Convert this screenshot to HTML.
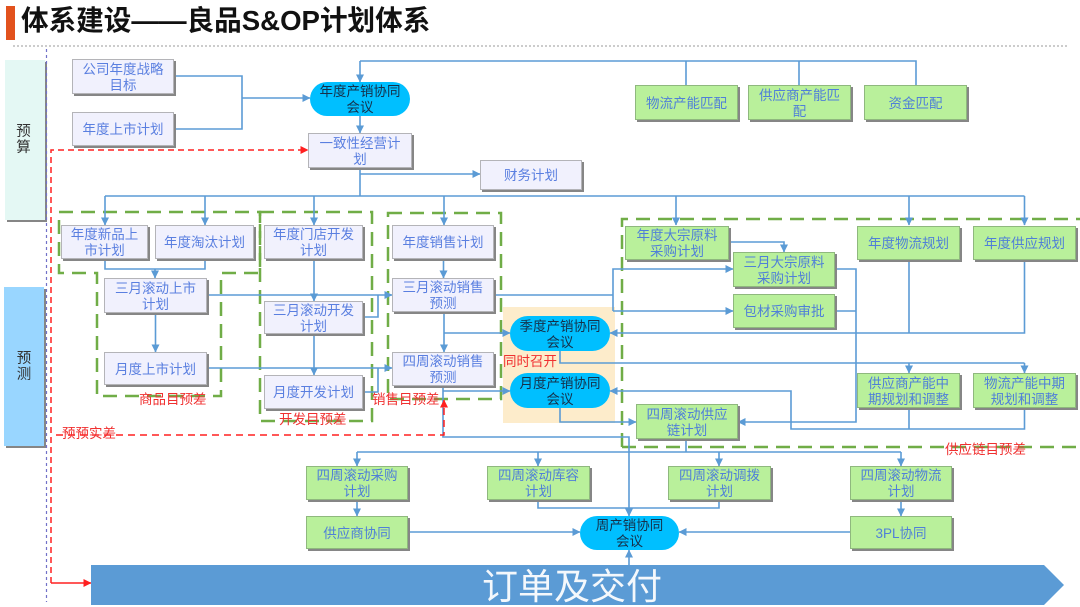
<!DOCTYPE html>
<html lang="zh"><head><meta charset="utf-8"><title>良品S&amp;OP计划体系</title>
<style>
html,body{margin:0;padding:0;background:#fff}
#p{position:relative;width:1080px;height:607px;overflow:hidden;background:#fff;font-family:"Liberation Sans","Noto Sans CJK SC",sans-serif;filter:blur(.3px)}
svg{position:absolute;left:0;top:0}
.b,.g,.o{position:absolute;box-sizing:border-box;display:flex;align-items:center;justify-content:center;text-align:center;font-size:13.5px;line-height:16px;padding-top:2px}
.b{background:#f1f1fd;border:1px solid #b4b4b8;box-shadow:2px 2px 0 #868686;color:#5a7fe0}
.g{background:#b9f09b;border:1px solid #8fb87e;box-shadow:2px 2px 0 #868686;color:#4f7fd8}
.o{background:#00bfff;border-radius:18px;color:#15304a}
.r{position:absolute;color:#f03030;font-size:13.5px;line-height:16px;white-space:nowrap}
.s{position:absolute;box-sizing:border-box;box-shadow:2px 2px 0 #868686;display:flex;align-items:center;justify-content:center;color:#333;font-size:14.5px;line-height:16px;text-align:center}
</style></head><body><div id="p">
<div style="position:absolute;left:503px;top:307px;width:112px;height:116px;background:#fdeccb"></div>
<div style="position:absolute;left:6px;top:6px;width:9px;height:34px;background:#e2521d"></div>
<div style="position:absolute;left:21px;top:4px;width:420px;font-size:27.6px;line-height:34px;font-weight:700;color:#111;white-space:nowrap">体系建设——良品S&amp;OP计划体系</div>
<div class="s" style="left:5px;top:60px;width:40px;height:160px;background:#e4f8f4;padding-right:3px">预<br>算</div>
<div class="s" style="left:4px;top:287px;width:40px;height:159px;background:#99d6ff">预<br>测</div>

<svg width="1080" height="607" viewBox="0 0 1080 607">
<defs>
<marker id="a" markerUnits="userSpaceOnUse" markerWidth="9" markerHeight="9" refX="7.5" refY="4" orient="auto"><path d="M0 0L8 4L0 8Z" fill="#5b9bd5"/></marker>
<marker id="c" markerUnits="userSpaceOnUse" markerWidth="9" markerHeight="9" refX="7.5" refY="4" orient="auto"><path d="M0 0L8 4L0 8Z" fill="#ff2020"/></marker>
</defs>
<line x1="13" y1="46" x2="1068" y2="46" stroke="#999" stroke-width="1" stroke-dasharray="2 2"/>
<line x1="46.5" y1="49" x2="46.5" y2="602" stroke="#7272c8" stroke-width="1.2" stroke-dasharray="3 3"/>
<g fill="none" stroke="#70ad47" stroke-width="2.5" stroke-dasharray="14 8">
<path d="M59 212H260V273H221V396H97V273H59Z"/>
<path d="M260 212H372V421H260Z"/>
<path d="M388 213H501V399H388Z"/>
<path d="M622 447V219H1082M622 447H1082"/>
</g>
<g fill="none" stroke="#5b9bd5" stroke-width="1.6">
<path d="M174 76H242V129H174"/>
<path d="M242 98H310" marker-end="url(#a)"/>
<path d="M360 61V82" marker-end="url(#a)"/>
<path d="M360 61H916V85M686 61V85M799 61V85"/>
<path d="M360 116V133" marker-end="url(#a)"/>
<path d="M360 168V196"/>
<path d="M360 174H480" marker-end="url(#a)"/>
<path d="M105 196H1024.5"/>
<path d="M105 196V225" marker-end="url(#a)"/>
<path d="M205 196V225" marker-end="url(#a)"/>
<path d="M314 196V225" marker-end="url(#a)"/>
<path d="M444 196V225" marker-end="url(#a)"/>
<path d="M676 196V225" marker-end="url(#a)"/>
<path d="M909 196V225" marker-end="url(#a)"/>
<path d="M1024.5 196V225" marker-end="url(#a)"/>
<path d="M105 259V269H205V259"/>
<path d="M155 269V278" marker-end="url(#a)"/>
<path d="M155.500 313V352" marker-end="url(#a)"/>
<path d="M314 259V301" marker-end="url(#a)"/>
<path d="M314 334V375" marker-end="url(#a)"/>
<path d="M443.500 259V278" marker-end="url(#a)"/>
<path d="M207 295H392" marker-end="url(#a)"/>
<path d="M363 317H378V295"/>
<path d="M207 368H392" marker-end="url(#a)"/>
<path d="M363 392H378V368"/>
<path d="M444 312V352" marker-end="url(#a)"/>
<path d="M444 333H510" marker-end="url(#a)"/>
<path d="M443 386V437H629V516" marker-end="url(#a)"/>
<path d="M443 391H510" marker-end="url(#a)"/>
<path d="M494 295H613"/>
<path d="M613 311V269H733" marker-end="url(#a)"/>
<path d="M613 311H733" marker-end="url(#a)"/>
<path d="M729 242H784V252" marker-end="url(#a)"/>
<path d="M835 269H856V422H738" marker-end="url(#a)"/>
<path d="M835 311H856"/>
<path d="M909 260V333M1024.500 260V333H610" marker-end="url(#a)"/>
<path d="M560 351V363H1024.500"/>
<path d="M909 363V373" marker-end="url(#a)"/>
<path d="M1024.500 363V373" marker-end="url(#a)"/>
<path d="M909 408V429M1024.500 408V429H791V391H610" marker-end="url(#a)"/>
<path d="M560 408V422H636" marker-end="url(#a)"/>
<path d="M686 439V452M357 452H901"/>
<path d="M357 452V466" marker-end="url(#a)"/>
<path d="M538 452V466" marker-end="url(#a)"/>
<path d="M719 452V466" marker-end="url(#a)"/>
<path d="M901 452V466" marker-end="url(#a)"/>
<path d="M357 500V516" marker-end="url(#a)"/>
<path d="M901 500V516" marker-end="url(#a)"/>
<path d="M538 500V508H719V500"/>
<path d="M408 532H580" marker-end="url(#a)"/>
<path d="M850 532H679" marker-end="url(#a)"/>
</g>
<g fill="none" stroke="#ff2020" stroke-width="1.5">
<path d="M51 583V150H308" stroke-dasharray="6 4" marker-end="url(#c)"/>
<path d="M51 583H91" marker-end="url(#c)"/>
<path d="M56 435H444V400" stroke-dasharray="7 5" marker-end="url(#c)"/>
</g>
<path d="M91 565H1044L1064 585L1044 605H91Z" fill="#5b9bd5"/>
<path d="M629 565V550" stroke="#5b9bd5" stroke-width="1.6" fill="none" marker-end="url(#a)"/>
</svg>

<div class="b" style="left:72px;top:59px;width:102px;height:35px">公司年度战略<br>目标</div>
<div class="b" style="left:72px;top:112px;width:102px;height:34px">年度上市计划</div>
<div class="o" style="left:310px;top:82px;width:100px;height:34px">年度产销协同<br>会议</div>
<div class="b" style="left:308px;top:133px;width:104px;height:35px">一致性经营计<br>划</div>
<div class="b" style="left:480px;top:160px;width:102px;height:30px">财务计划</div>
<div class="g" style="left:635px;top:85px;width:103px;height:35px">物流产能匹配</div>
<div class="g" style="left:748px;top:85px;width:103px;height:35px">供应商产能匹<br>配</div>
<div class="g" style="left:864px;top:85px;width:103px;height:35px">资金匹配</div>

<div class="b" style="left:61px;top:225px;width:87px;height:34px">年度新品上<br>市计划</div>
<div class="b" style="left:155px;top:225px;width:99px;height:34px">年度淘汰计划</div>
<div class="b" style="left:264px;top:225px;width:99px;height:34px">年度门店开发<br>计划</div>
<div class="b" style="left:392px;top:225px;width:102px;height:34px">年度销售计划</div>
<div class="b" style="left:104px;top:278px;width:103px;height:35px">三月滚动上市<br>计划</div>
<div class="b" style="left:104px;top:352px;width:103px;height:33px">月度上市计划</div>
<div class="b" style="left:264px;top:301px;width:99px;height:33px">三月滚动开发<br>计划</div>
<div class="b" style="left:264px;top:375px;width:99px;height:34px">月度开发计划</div>
<div class="b" style="left:392px;top:278px;width:102px;height:34px">三月滚动销售<br>预测</div>
<div class="b" style="left:392px;top:352px;width:102px;height:34px">四周滚动销售<br>预测</div>

<div class="o" style="left:510px;top:316px;width:100px;height:35px">季度产销协同<br>会议</div>
<div class="o" style="left:510px;top:373px;width:100px;height:35px">月度产销协同<br>会议</div>

<div class="g" style="left:625px;top:226px;width:104px;height:34px">年度大宗原料<br>采购计划</div>
<div class="g" style="left:733px;top:252px;width:102px;height:35px">三月大宗原料<br>采购计划</div>
<div class="g" style="left:733px;top:294px;width:102px;height:34px">包材采购审批</div>
<div class="g" style="left:857px;top:226px;width:103px;height:34px">年度物流规划</div>
<div class="g" style="left:973px;top:226px;width:103px;height:34px">年度供应规划</div>
<div class="g" style="left:857px;top:373px;width:103px;height:35px">供应商产能中<br>期规划和调整</div>
<div class="g" style="left:973px;top:373px;width:103px;height:35px">物流产能中期<br>规划和调整</div>
<div class="g" style="left:636px;top:404px;width:102px;height:35px">四周滚动供应<br>链计划</div>

<div class="g" style="left:306px;top:466px;width:102px;height:34px">四周滚动采购<br>计划</div>
<div class="g" style="left:487px;top:466px;width:103px;height:34px">四周滚动库容<br>计划</div>
<div class="g" style="left:668px;top:466px;width:103px;height:34px">四周滚动调拨<br>计划</div>
<div class="g" style="left:850px;top:466px;width:102px;height:34px">四周滚动物流<br>计划</div>
<div class="g" style="left:306px;top:516px;width:102px;height:33px">供应商协同</div>
<div class="g" style="left:850px;top:516px;width:102px;height:33px">3PL协同</div>
<div class="o" style="left:580px;top:516px;width:99px;height:34px">周产销协同<br>会议</div>

<div class="r" style="left:139px;top:392px">商品目预差</div>
<div class="r" style="left:279px;top:412px">开发目预差</div>
<div class="r" style="left:372px;top:392px">销售目预差</div>
<div class="r" style="left:62px;top:426px">预预实差</div>
<div class="r" style="left:503px;top:354px">同时召开</div>
<div class="r" style="left:945px;top:442px">供应链目预差</div>
<div style="position:absolute;left:482px;top:564px;width:200px;font-size:36px;line-height:46px;color:#f4f8fc;white-space:nowrap">订单及交付</div>
</div></body></html>
